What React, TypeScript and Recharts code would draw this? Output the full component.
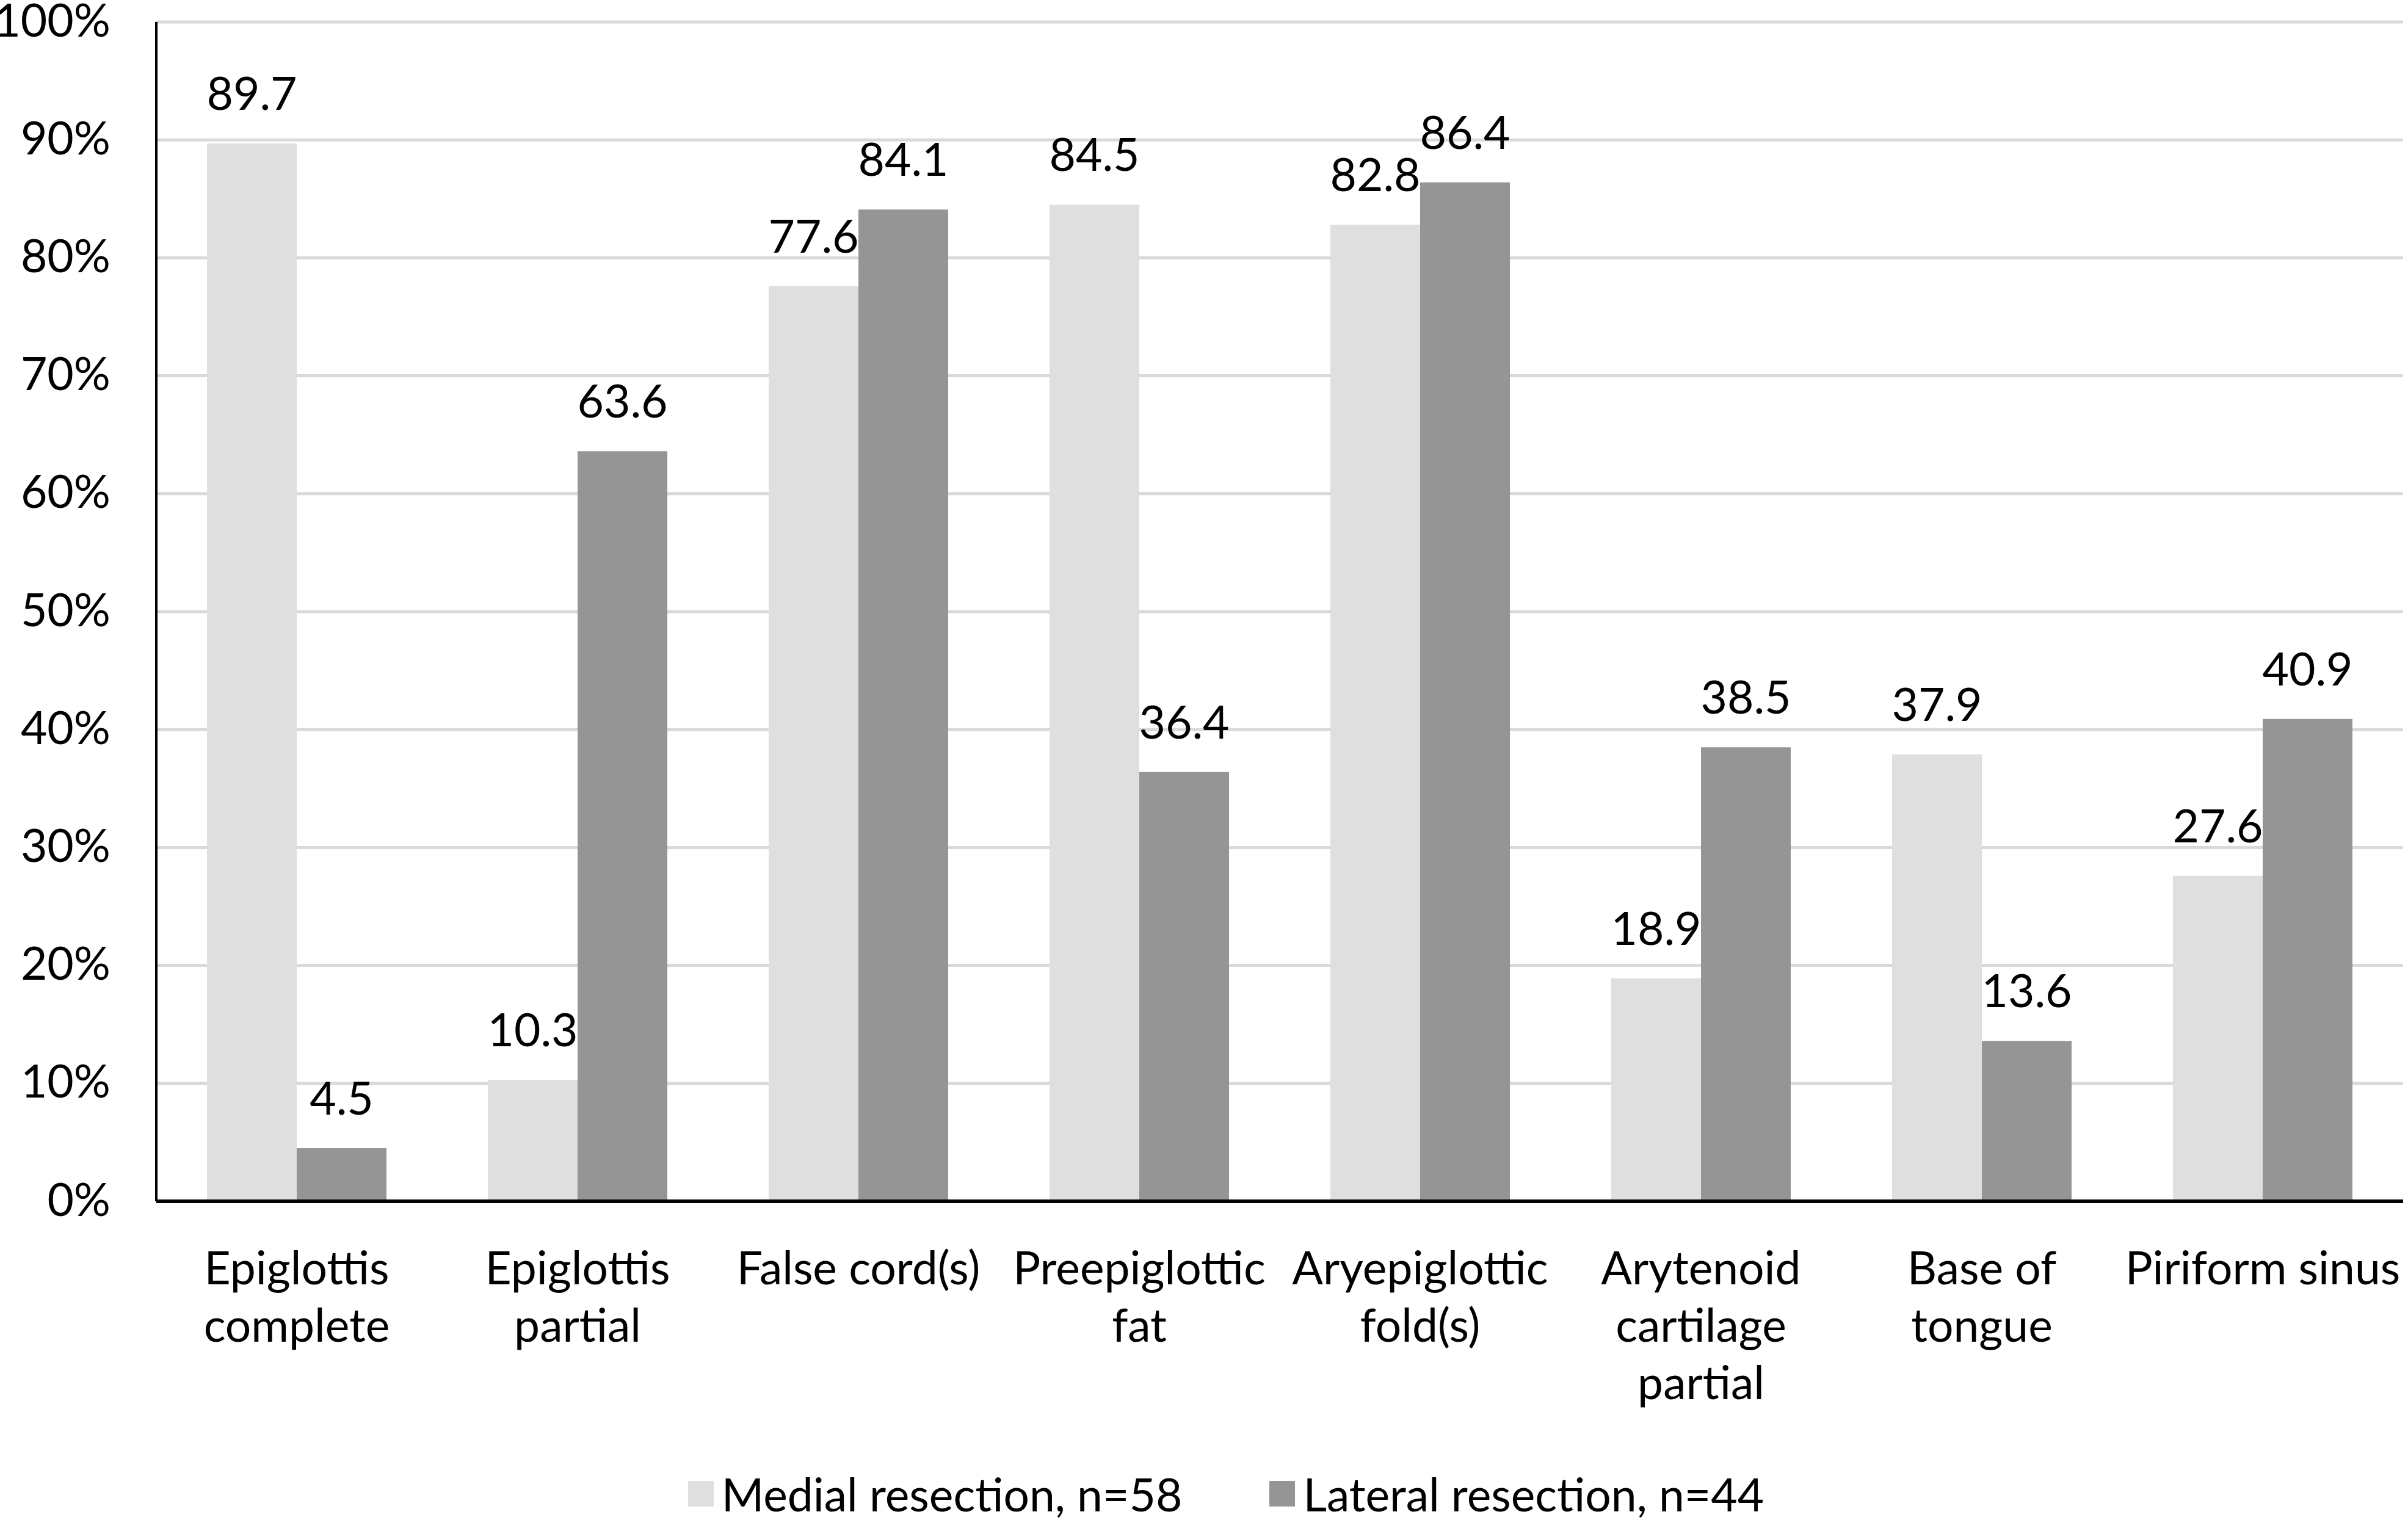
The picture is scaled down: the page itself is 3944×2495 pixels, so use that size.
import React from "react";
import { BarChart, Bar, XAxis, YAxis, CartesianGrid, Legend, LabelList } from "recharts";

const categories = [
  "Epiglottis complete",
  "Epiglottis partial",
  "False cord(s)",
  "Preepiglottic fat",
  "Aryepiglottic fold(s)",
  "Arytenoid cartilage partial",
  "Base of tongue",
  "Piriform sinus",
];
const categoryLines: string[][] = [
  ["Epiglottis", "complete"],
  ["Epiglottis", "partial"],
  ["False cord(s)"],
  ["Preepiglottic", "fat"],
  ["Aryepiglottic", "fold(s)"],
  ["Arytenoid", "cartilage", "partial"],
  ["Base of", "tongue"],
  ["Piriform sinus"],
];
const medial = [89.7, 10.3, 77.6, 84.5, 82.8, 18.9, 37.9, 27.6];
const lateral = [4.5, 63.6, 84.1, 36.4, 86.4, 38.5, 13.6, 40.9];
const yTicks = [0, 10, 20, 30, 40, 50, 60, 70, 80, 90, 100];
const seriesNames = ["Medial resection, n=58", "Lateral resection, n=44"];
const seriesColors = ["#dfdfdf", "#959595"];

const data = categories.map((c, i) => ({ name: c, medial: medial[i], lateral: lateral[i] }));

const FONT = "Lato, 'Liberation Sans', sans-serif";
const FS = 75;

const XTick = (props: any) => {
  const { x, y, index } = props;
  const lines = categoryLines[index] || [props.payload.value];
  return (
    <text x={x} y={y + 136} textAnchor="middle" fontFamily={FONT} fontSize={FS} fill="#000">
      {lines.map((l, i) => (
        <tspan key={i} x={x} dy={i === 0 ? 0 : 94}>
          {l}
        </tspan>
      ))}
    </text>
  );
};

const YTick = (props: any) => {
  const { x, y, payload } = props;
  return (
    <text x={x} y={y - 3} dy="0.355em" textAnchor="end" fontFamily={FONT} fontSize={FS} fill="#000">
      {`${payload.value}%`}
    </text>
  );
};

const LegendContent = () => (
  <div
    style={{
      width: 3944,
      height: 80,
      display: "flex",
      justifyContent: "center",
      alignItems: "center",
      paddingLeft: 72,
      boxSizing: "border-box",
      fontFamily: FONT,
      fontSize: FS,
      color: "#000",
    }}
  >
    {seriesNames.map((n, i) => (
      <div key={n} style={{ display: "flex", alignItems: "center", marginRight: i === 0 ? 143 : 0 }}>
        <div style={{ width: 42, height: 42, background: seriesColors[i], marginRight: 13 }} />
        <span style={{ lineHeight: "80px" }}>{n}</span>
      </div>
    ))}
  </div>
);

export default function App() {
  return (
    <div style={{ position: "absolute", left: 0, top: 0, background: "#fff" }}>
      <BarChart
        width={3944}
        height={2495}
        data={data}
        margin={{ top: 36, right: 8, bottom: 8, left: 0 }}
        barCategoryGap={83}
        barGap={0}
      >
        <CartesianGrid vertical={false} stroke="#d9d9d9" strokeWidth={5} />
        <XAxis
          dataKey="name"
          interval={0}
          height={439}
          tickLine={false}
          tickSize={0}
          tickMargin={0}
          axisLine={{ stroke: "#000", strokeWidth: 6 }}
          tick={<XTick />}
        />
        <YAxis
          width={256}
          domain={[0, 100]}
          ticks={yTicks}
          interval={0}
          tickLine={false}
          tickSize={0}
          tickMargin={75}
          axisLine={{ stroke: "#000", strokeWidth: 4 }}
          tick={<YTick />}
        />
        <Legend verticalAlign="bottom" align="left" content={<LegendContent />} />
        <Bar dataKey="medial" name={seriesNames[0]} fill={seriesColors[0]} isAnimationActive={false}>
          <LabelList dataKey="medial" position="top" offset={55} fill="#000" fontSize={FS} fontFamily={FONT} />
        </Bar>
        <Bar dataKey="lateral" name={seriesNames[1]} fill={seriesColors[1]} isAnimationActive={false}>
          <LabelList dataKey="lateral" position="top" offset={55} fill="#000" fontSize={FS} fontFamily={FONT} />
        </Bar>
      </BarChart>
    </div>
  );
}
